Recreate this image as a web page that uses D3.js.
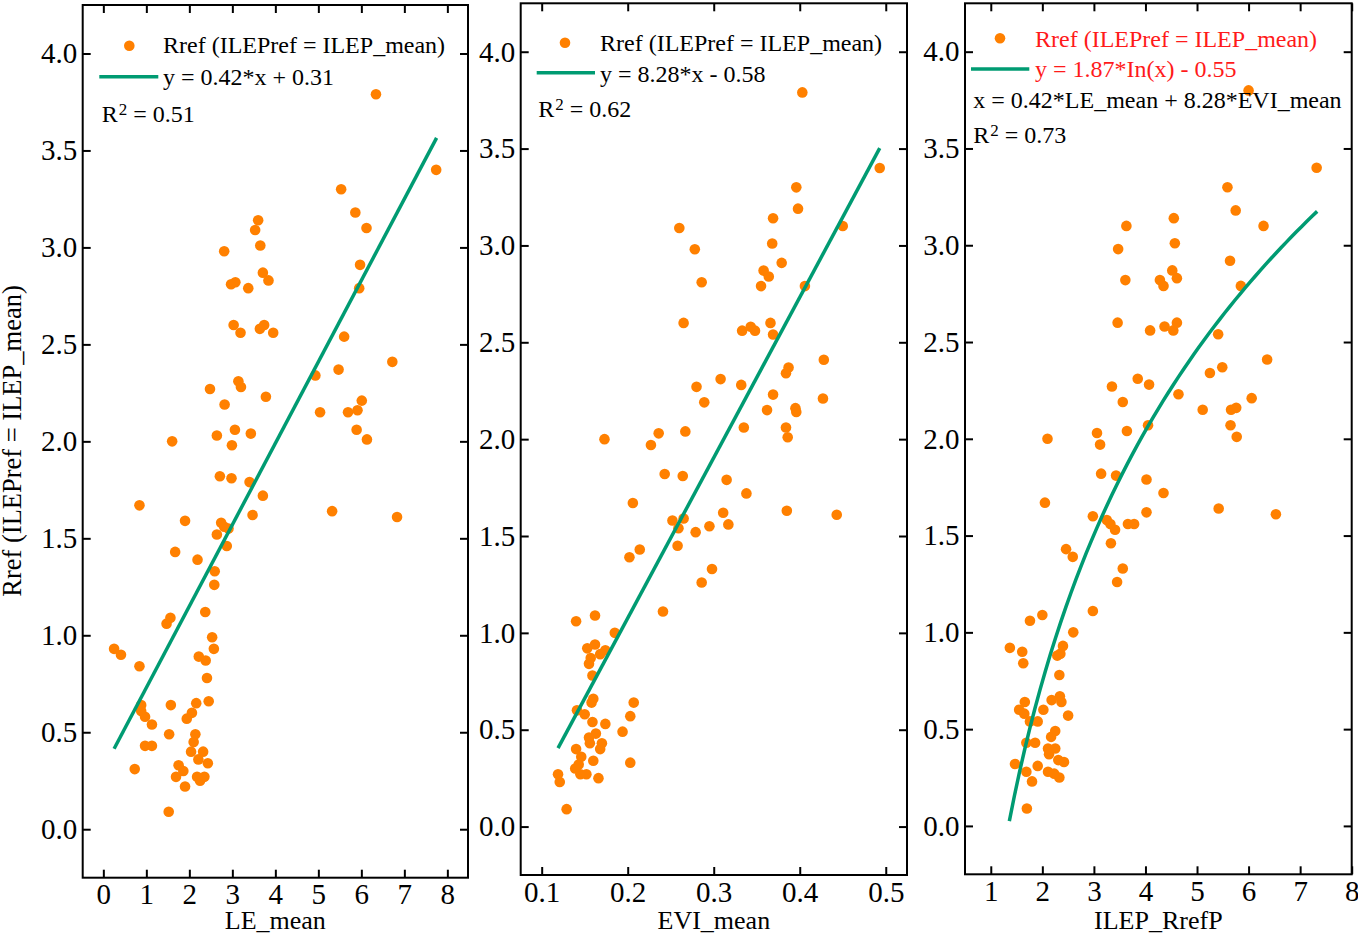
<!DOCTYPE html>
<html>
<head>
<meta charset="utf-8">
<script src="https://cdn.jsdelivr.net/npm/d3@7"></script>
<style>
  body { margin: 0; background: #fff; }
  text { font-family: "Liberation Serif", "Times New Roman", serif; fill: #000; }
</style>
</head>
<body>
<script>
// ---- data ----
var leX = [6.34,7.74,5.53,5.86,6.12,3.60,3.53,3.65,2.81,5.97,3.71,3.84,2.97,3.07,3.37,5.95,3.03,3.19,3.64,3.74,
  3.95,5.60,6.72,4.93,5.47,3.14,3.20,2.48,3.78,2.82,6.01,5.04,5.69,5.91,5.89,6.13,3.06,2.64,3.43,2.99,
  1.60,2.71,2.98,3.40,3.71,0.84,5.32,6.83,3.47,1.90,2.74,2.81,2.91,2.64,2.87,1.67,2.19,2.59,2.58,2.37,
  1.56,1.47,2.53,0.25,0.41,2.57,2.22,2.38,0.84,2.41,2.45,2.16,1.57,0.88,0.88,0.97,2.06,1.94,1.13,1.53,
  2.14,2.10,0.97,1.13,2.04,2.32,2.21,2.43,0.73,1.75,1.86,1.69,2.18,2.35,2.25,1.90,1.52];
var leY = [3.79,3.40,3.30,3.18,3.10,3.14,3.09,3.01,2.98,2.91,2.87,2.83,2.81,2.82,2.79,2.79,2.60,2.56,2.58,2.60,
  2.56,2.54,2.41,2.34,2.37,2.31,2.28,2.27,2.23,2.19,2.21,2.15,2.15,2.16,2.06,2.01,2.06,2.03,2.04,1.98,
  2.00,1.82,1.81,1.79,1.72,1.67,1.64,1.61,1.62,1.59,1.58,1.56,1.55,1.52,1.46,1.43,1.39,1.33,1.26,1.12,
  1.09,1.06,0.99,0.93,0.90,0.93,0.89,0.87,0.84,0.78,0.66,0.65,0.64,0.64,0.61,0.58,0.60,0.57,0.54,0.49,
  0.49,0.45,0.43,0.43,0.40,0.40,0.36,0.34,0.31,0.33,0.30,0.27,0.27,0.27,0.25,0.22,0.09];

var eviX = [0.403,0.493,0.396,0.398,0.450,0.369,0.368,0.260,0.278,0.379,0.358,0.364,0.355,0.406,0.286,0.265,
  0.366,0.333,0.343,0.348,0.369,0.428,0.387,0.384,0.308,0.280,0.332,0.369,0.427,0.289,0.362,0.395,0.396,
  0.335,0.384,0.386,0.267,0.236,0.173,0.227,0.243,0.264,0.315,0.338,0.206,0.385,0.443,0.311,0.252,0.265,
  0.259,0.295,0.317,0.279,0.258,0.214,0.202,0.298,0.286,0.241,0.162,0.140,0.185,0.153,0.162,0.174,0.168,
  0.157,0.155,0.159,0.160,0.158,0.207,0.141,0.150,0.203,0.159,0.174,0.194,0.163,0.155,0.170,0.156,0.140,
  0.168,0.146,0.160,0.203,0.139,0.143,0.145,0.152,0.119,0.166,0.121,0.129];
var eviY = [3.79,3.40,3.30,3.19,3.10,3.14,3.01,3.09,2.98,2.91,2.87,2.84,2.79,2.79,2.81,2.60,
  2.60,2.56,2.58,2.56,2.54,2.41,2.37,2.34,2.31,2.27,2.28,2.23,2.21,2.19,2.15,2.16,2.14,
  2.06,2.06,2.01,2.04,2.03,2.00,1.97,1.82,1.81,1.79,1.72,1.67,1.63,1.61,1.62,1.58,1.59,
  1.54,1.55,1.56,1.52,1.45,1.43,1.39,1.33,1.26,1.11,1.09,1.06,1.00,0.92,0.94,0.91,0.89,
  0.87,0.84,0.78,0.66,0.64,0.64,0.60,0.58,0.57,0.54,0.53,0.49,0.48,0.46,0.43,0.43,0.40,
  0.40,0.36,0.34,0.33,0.30,0.32,0.27,0.27,0.27,0.25,0.23,0.09];

var ilepX = [6.00,7.32,5.59,5.75,6.29,4.55,3.63,4.57,3.47,5.64,4.52,3.61,4.28,4.61,4.35,5.85,3.46,4.61,4.09,
  4.37,4.54,5.41,6.36,5.49,5.25,3.85,3.35,4.07,4.64,6.06,3.56,5.11,5.66,5.76,4.05,5.65,5.77,3.64,3.06,
  2.10,3.12,3.14,3.43,4.02,4.35,2.05,5.42,6.53,4.02,2.98,3.25,3.32,3.41,3.66,3.78,3.33,2.46,2.59,3.56,
  3.45,2.98,2.00,1.76,2.60,1.37,1.61,2.40,2.29,2.35,1.63,2.33,1.66,2.18,2.34,2.37,1.55,1.65,2.02,2.50,
  1.76,1.91,2.25,2.17,1.69,1.86,2.11,2.25,2.13,2.31,2.42,1.47,1.91,1.69,2.11,2.23,2.33,1.80,1.70];
var ilepY = [3.80,3.40,3.30,3.18,3.10,3.14,3.10,3.01,2.98,2.92,2.87,2.82,2.82,2.83,2.79,2.79,2.60,2.60,2.56,
  2.58,2.56,2.54,2.41,2.37,2.34,2.31,2.27,2.28,2.23,2.21,2.19,2.15,2.15,2.16,2.07,2.07,2.01,2.04,2.03,
  2.00,1.97,1.82,1.81,1.79,1.72,1.67,1.64,1.61,1.62,1.60,1.58,1.56,1.53,1.56,1.56,1.46,1.43,1.39,1.33,
  1.26,1.11,1.09,1.06,1.00,0.92,0.90,0.93,0.88,0.89,0.84,0.78,0.64,0.65,0.67,0.64,0.60,0.58,0.60,0.57,
  0.54,0.54,0.49,0.46,0.43,0.43,0.40,0.40,0.37,0.34,0.33,0.32,0.31,0.28,0.28,0.27,0.25,0.23,0.09];

var yTicks = [0, 0.5, 1.0, 1.5, 2.0, 2.5, 3.0, 3.5, 4.0];
var leTicks = [0, 1, 2, 3, 4, 5, 6, 7, 8];
var eviTicks = [0.1, 0.2, 0.3, 0.4, 0.5];
var ilepTicks = [1, 2, 3, 4, 5, 6, 7, 8];

// fits as printed in the legends: [slope, intercept], x range of the drawn line
var leFit = [0.42, 0.31], leFitRange = [0.25, 7.75];
var eviFit = [8.28, -0.58], eviFitRange = [0.119, 0.493];
var ilepFit = [1.87, -0.55], ilepFitRange = [1.36, 7.33];

var legendName = "Rref (ILEPref = ILEP_mean)";

var ORANGE = "#ff8000";
var GREEN = "#009b72";
var RED = "#ff1a1a";

var svg = d3.select("body").append("svg")
  .attr("width", 1358)
  .attr("height", 936);

function drawPanel(p) {
  var x = d3.scaleLinear().domain(p.xDomain).range([p.left, p.right]);
  var y = d3.scaleLinear().domain([-0.25, 4.25]).range([p.bottom, p.top]);
  var g = svg.append("g");

  // ticks on all four sides, pointing inward
  g.append("g")
    .attr("transform", "translate(0," + p.bottom + ")")
    .call(d3.axisBottom(x).tickValues(p.xTicks).tickFormat(d3.format(p.xFormat))
      .tickSize(-8).tickSizeOuter(0).tickPadding(6))
    .call(styleAxis);
  g.append("g")
    .attr("transform", "translate(0," + p.top + ")")
    .call(d3.axisTop(x).tickValues(p.xTicks).tickFormat("").tickSize(-8).tickSizeOuter(0))
    .call(styleAxis);
  g.append("g")
    .attr("transform", "translate(" + p.left + ",0)")
    .call(d3.axisLeft(y).tickValues(yTicks).tickFormat(d3.format(".1f"))
      .tickSize(-8).tickSizeOuter(0).tickPadding(5.5))
    .call(styleAxis);
  g.append("g")
    .attr("transform", "translate(" + p.right + ",0)")
    .call(d3.axisRight(y).tickValues(yTicks).tickFormat("").tickSize(-8).tickSizeOuter(0))
    .call(styleAxis);

  g.append("rect")
    .attr("x", p.left).attr("y", p.top)
    .attr("width", p.right - p.left).attr("height", p.bottom - p.top)
    .attr("fill", "none").attr("stroke", "#000").attr("stroke-width", 2);

  g.append("text")
    .attr("x", (p.left + p.right) / 2)
    .attr("y", 929)
    .attr("text-anchor", "middle")
    .attr("font-size", 26)
    .text(p.xTitle);

  // points
  g.append("g").selectAll("circle")
    .data(p.xs.map(function(d, i) { return [d, p.ys[i]]; }))
    .join("circle")
    .attr("cx", function(d) { return x(d[0]); })
    .attr("cy", function(d) { return y(d[1]); })
    .attr("r", 5.3)
    .attr("fill", ORANGE);

  // fitted line / curve
  var fx = p.fitLog
    ? d3.range(0, 61).map(function(i) { return p.fitRange[0] + (p.fitRange[1] - p.fitRange[0]) * i / 60; })
    : p.fitRange;
  var line = d3.line()
    .x(function(d) { return x(d); })
    .y(function(d) { return y(p.fit[0] * (p.fitLog ? Math.log(d) : d) + p.fit[1]); });
  g.append("path")
    .datum(fx)
    .attr("d", line)
    .attr("fill", "none")
    .attr("stroke", GREEN)
    .attr("stroke-width", 3.5);

  // legend
  var L = p.legend;
  g.append("circle")
    .attr("cx", p.left + L.dotX).attr("cy", L.dotY)
    .attr("r", 5.3).attr("fill", ORANGE);
  g.append("text")
    .attr("x", p.left + L.textX).attr("y", L.row1)
    .attr("font-size", 24)
    .style("fill", L.color)
    .text(legendName);
  g.append("line")
    .attr("x1", p.left + L.lineX[0]).attr("x2", p.left + L.lineX[1])
    .attr("y1", L.lineY).attr("y2", L.lineY)
    .attr("stroke", GREEN).attr("stroke-width", 3.5);
  g.append("text")
    .attr("x", p.left + L.textX).attr("y", L.row2)
    .attr("font-size", 24)
    .style("fill", L.color)
    .text(L.eq);
  if (L.extra) {
    g.append("text")
      .attr("x", p.left + L.noteX).attr("y", L.extraY)
      .attr("font-size", 24)
      .text(L.extra);
  }
  var r2 = g.append("text")
    .attr("x", p.left + L.noteX).attr("y", L.r2Y)
    .attr("font-size", 24);
  r2.append("tspan").text("R");
  r2.append("tspan").attr("font-size", 17).attr("dy", -7).attr("dx", 1).text("2");
  r2.append("tspan").attr("dy", 7).text(" = " + L.r2);
}

function styleAxis(sel) {
  sel.select(".domain").remove();
  sel.selectAll(".tick line").attr("stroke", "#000").attr("stroke-width", 2);
  sel.selectAll(".tick text")
    .attr("font-family", "Liberation Serif, serif")
    .attr("font-size", 29)
    .attr("fill", "#000");
}

drawPanel({
  left: 82.7, right: 468, top: 5, bottom: 877.7,
  xDomain: [-0.48, 8.48], xTicks: leTicks, xFormat: "d", xTitle: "LE_mean",
  xs: leX, ys: leY, fit: leFit, fitRange: leFitRange, fitLog: false,
  legend: { dotX: 46.6, dotY: 45.7, textX: 80.3, row1: 53.3, lineX: [16.6, 75.6], lineY: 76.7,
            row2: 85, eq: "y = 0.42*x + 0.31", color: "#000", noteX: 19, r2Y: 121.5, r2: "0.51" }
});

drawPanel({
  left: 520.7, right: 907, top: 3.3, bottom: 875,
  xDomain: [0.0756, 0.5247], xTicks: eviTicks, xFormat: ".1f", xTitle: "EVI_mean",
  xs: eviX, ys: eviY, fit: eviFit, fitRange: eviFitRange, fitLog: false,
  legend: { dotX: 44.3, dotY: 42.7, textX: 79.3, row1: 50.7, lineX: [16, 74.3], lineY: 72.7,
            row2: 82, eq: "y = 8.28*x - 0.58", color: "#000", noteX: 17.6, r2Y: 117, r2: "0.62" }
});

drawPanel({
  left: 965, right: 1351.7, top: 3.3, bottom: 874.3,
  xDomain: [0.5, 8.0], xTicks: ilepTicks, xFormat: "d", xTitle: "ILEP_RrefP",
  xs: ilepX, ys: ilepY, fit: ilepFit, fitRange: ilepFitRange, fitLog: true,
  legend: { dotX: 35, dotY: 38.3, textX: 70, row1: 46.7, lineX: [6, 64.3], lineY: 69,
            row2: 77.3, eq: "y = 1.87*In(x) - 0.55", color: RED, noteX: 8.3,
            extra: "x = 0.42*LE_mean + 8.28*EVI_mean", extraY: 108.3, r2Y: 143.3, r2: "0.73" }
});

// shared y-axis title
svg.append("text")
  .attr("transform", "translate(21,441) rotate(-90)")
  .attr("text-anchor", "middle")
  .attr("font-size", 26.5)
  .text(legendName);
</script>
</body>
</html>
